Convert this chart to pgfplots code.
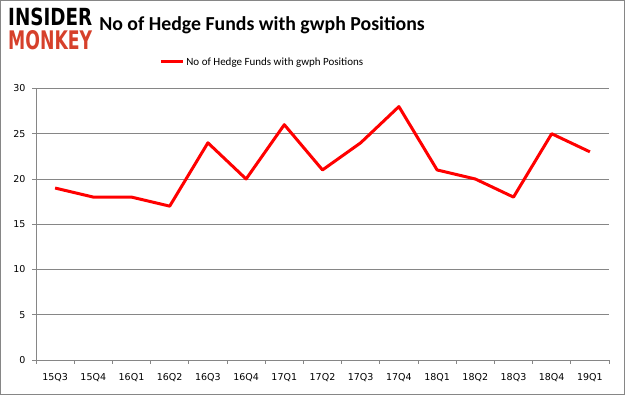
\documentclass[border=0pt]{standalone}
\usepackage{pgfplots}
\pgfplotsset{compat=1.18}
\usepackage{graphicx}
\usepackage{fontspec}
\setmainfont{Carlito}
\newfontfamily\tickfont{DejaVu Sans}
\definecolor{gridgray}{RGB}{134,134,134}
\definecolor{monkeyred}{RGB}{214,64,43}
\begin{document}
\begin{tikzpicture}[x=1pt,y=1pt]
\draw[gridgray, line width=1pt] (0.5,0.5) rectangle (624.5,394.5);
\node[anchor=north west, inner sep=0pt] at (8,387) {\resizebox{84pt}{17.5pt}{\fontspec{DejaVu Sans}\bfseries INSIDER}};
\node[anchor=north west, inner sep=0pt] at (8,365) {\resizebox{84pt}{19pt}{\fontspec{DejaVu Sans}\bfseries\color{monkeyred}MONKEY}};
\node[anchor=center, inner sep=0pt] at (262,370) {\fontsize{19.8}{24}\selectfont\bfseries No of Hedge Funds with gwph Positions};
\begin{axis}[
  at={(36pt,35pt)}, anchor=south west,
  width=573pt, height=271.5pt, scale only axis,
  xmin=-0.5, xmax=14.5, ymin=0, ymax=30,
  axis x line*=bottom, axis y line*=left,
  axis line style={gridgray, line width=0.8pt},
  xtick={0,...,14},
  xticklabels={15Q3,15Q4,16Q1,16Q2,16Q3,16Q4,17Q1,17Q2,17Q3,17Q4,18Q1,18Q2,18Q3,18Q4,19Q1},
  minor xtick={-0.5,0.5,...,14.5},
  major x tick style={draw=none},
  minor x tick style={gridgray, line width=0.8pt},
  ytick={0,5,...,30},
  major y tick style={gridgray, line width=0.8pt},
  tick align=outside,
  major tick length=4pt, minor tick length=4pt,
  ymajorgrids, grid style={gridgray, line width=0.8pt},
  ticklabel style={font=\tickfont\fontsize{9.5}{11}\selectfont, text=black},
  /pgf/number format/assume math mode=true,
  xticklabel style={yshift=-6pt},
  yticklabel style={xshift=-3pt},
  legend style={at={(0.395,1.0976)}, anchor=center, draw=none, fill=none,
    font=\fontsize{11}{13}\selectfont, inner sep=0pt},
  legend image code/.code={\draw[red, line width=3pt] (0pt,0pt) -- (22pt,0pt);},
  legend cell align=left,
]
\addplot[red, line width=3pt, line join=round] coordinates {
(0,19) (1,18) (2,18) (3,17) (4,24) (5,20) (6,26) (7,21) (8,24) (9,28) (10,21) (11,20) (12,18) (13,25) (14,23)
};
\addlegendentry{No of Hedge Funds with gwph Positions}
\end{axis}
\end{tikzpicture}
\end{document}
